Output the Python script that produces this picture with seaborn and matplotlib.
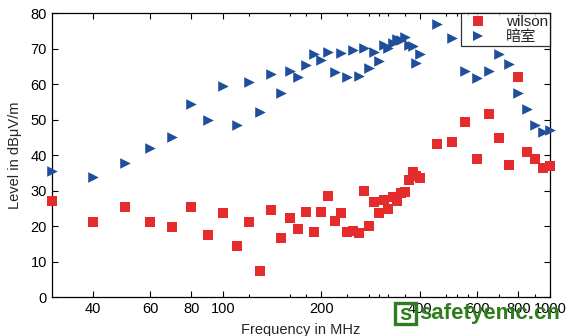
import matplotlib
matplotlib.use("Agg")
import matplotlib.pyplot as plt
from matplotlib.lines import Line2D
from matplotlib.patches import Rectangle
from matplotlib.ticker import FixedLocator, FixedFormatter, NullFormatter
import pandas as pd
import seaborn as sns

# Measurement frequencies (MHz)
freq_mhz = [30, 40, 50, 60, 70, 80, 90, 100,
            110, 120, 130, 140, 150, 160, 170, 180, 190, 200,
            210, 220, 230, 240, 250, 260, 270, 280, 290, 300,
            310, 320, 330, 340, 350, 360, 370, 380, 390, 400,
            450, 500, 550, 600, 650, 700, 750, 800, 850, 900, 950, 1000]

# Field strength levels (dBuV/m)
wilson_level = [27.0, 21.0, 25.3, 21.2, 19.7, 25.3, 17.4, 23.6,
                14.4, 21.0, 7.3, 24.5, 16.5, 22.2, 19.1, 23.9, 18.2, 23.9,
                28.4, 21.3, 23.6, 18.3, 18.6, 18.0, 29.9, 20.0, 26.8, 23.7,
                27.3, 24.9, 28.3, 27.0, 29.3, 29.5, 33.0, 35.3, 34.2, 33.5,
                43.0, 43.6, 49.2, 38.8, 51.5, 44.7, 37.2, 61.9, 40.8, 38.8, 36.4, 37.0]

chamber_level = [35.4, 33.7, 37.7, 41.9, 45.0, 54.4, 49.8, 59.6,
                 48.4, 60.6, 52.1, 62.8, 57.4, 63.7, 61.9, 65.3, 68.5, 66.7,
                 68.9, 63.4, 68.7, 61.9, 69.5, 62.4, 70.3, 64.4, 69.0, 66.4,
                 71.1, 70.2, 71.5, 72.8, 72.4, 73.3, 71.1, 70.8, 65.8, 68.4,
                 76.9, 72.9, 63.7, 61.6, 63.7, 68.6, 65.6, 57.4, 53.0, 48.4, 46.4, 47.0]

series_names = ["wilson", "暗室"]

x_major = [40, 60, 80, 100, 200, 400, 600, 800, 1000]
x_major_labels = ["40", "60", "80", "100", "200", "400", "600", "800", "1000"]
x_minor = [120, 160, 180, 240, 280, 300, 320, 360, 480, 520, 560, 700, 900]
y_ticks = [0, 10, 20, 30, 40, 50, 60, 70, 80]

df = pd.DataFrame({
    "freq": freq_mhz * 2,
    "level": wilson_level + chamber_level,
    "series": [series_names[0]] * len(freq_mhz) + [series_names[1]] * len(freq_mhz),
})

sns.set_style("ticks")
plt.rcParams["font.family"] = ["Liberation Sans", "Noto Sans CJK SC", "DejaVu Sans"]

colors = {series_names[0]: "#E52B2B", series_names[1]: "#1F4F9C"}
markers = {series_names[0]: "s", series_names[1]: ">"}
marker_area = {series_names[0]: 46, series_names[1]: 58}

fig = plt.figure(figsize=(5.70, 3.36), dpi=100)
ax = fig.add_axes([0.0912, 0.116, 0.8738, 0.845])

for name in series_names:
    sns.scatterplot(data=df[df["series"] == name], x="freq", y="level",
                    color=colors[name], marker=markers[name], s=marker_area[name],
                    linewidth=0, legend=False, ax=ax, clip_on=False, zorder=3)

ax.set_xscale("log")
ax.set_xlim(30, 1000)
ax.set_ylim(0, 80)
ax.xaxis.set_major_locator(FixedLocator(x_major))
ax.xaxis.set_major_formatter(FixedFormatter(x_major_labels))
ax.xaxis.set_minor_locator(FixedLocator(x_minor))
ax.xaxis.set_minor_formatter(NullFormatter())
ax.set_yticks(y_ticks)

for side in ["top", "right", "left", "bottom"]:
    ax.spines[side].set_visible(True)
    ax.spines[side].set_color("black")
    ax.spines[side].set_linewidth(0.9)

ax.tick_params(which="both", direction="in", top=True, right=True,
               colors="black", labelsize=10.5, width=0.8)
ax.tick_params(which="major", length=4, pad=3.5)
ax.tick_params(which="minor", length=2.5)

ax.set_xlabel("Frequency in MHz", fontsize=10.5, labelpad=5)
ax.set_ylabel("Level in dBμV/m", fontsize=10.5, labelpad=6)

handles = [Line2D([], [], linestyle="none", marker=markers[n], color=colors[n],
                  markersize=7.5, markeredgewidth=0) for n in series_names]
leg = ax.legend(handles, series_names, loc="upper right", borderaxespad=0,
                frameon=True, fancybox=False, edgecolor="black",
                fontsize=11, handletextpad=0.8, borderpad=0.15,
                labelspacing=0.05, handlelength=2.0)
leg.get_frame().set_linewidth(0.9)
leg.set_zorder(5)

# Site watermark: boxed "s" followed by the domain name
wm_color = "#2F7D1E"
W, H = 570, 336
fig.patches.append(Rectangle((395 / W, 1 - 324 / H), 21 / W, 21 / H,
                             transform=fig.transFigure, fill=False,
                             edgecolor=wm_color, linewidth=2.4))
fig.text(405.5 / W, 1 - 314 / H, "s", fontsize=16, fontweight="bold",
         color=wm_color, ha="center", va="center")
fig.text(419 / W, 1 - 313 / H, "safetyemc.cn", fontsize=16,
         fontweight="bold", color=wm_color, ha="left", va="center")

fig.savefig("out.png", dpi=100)
